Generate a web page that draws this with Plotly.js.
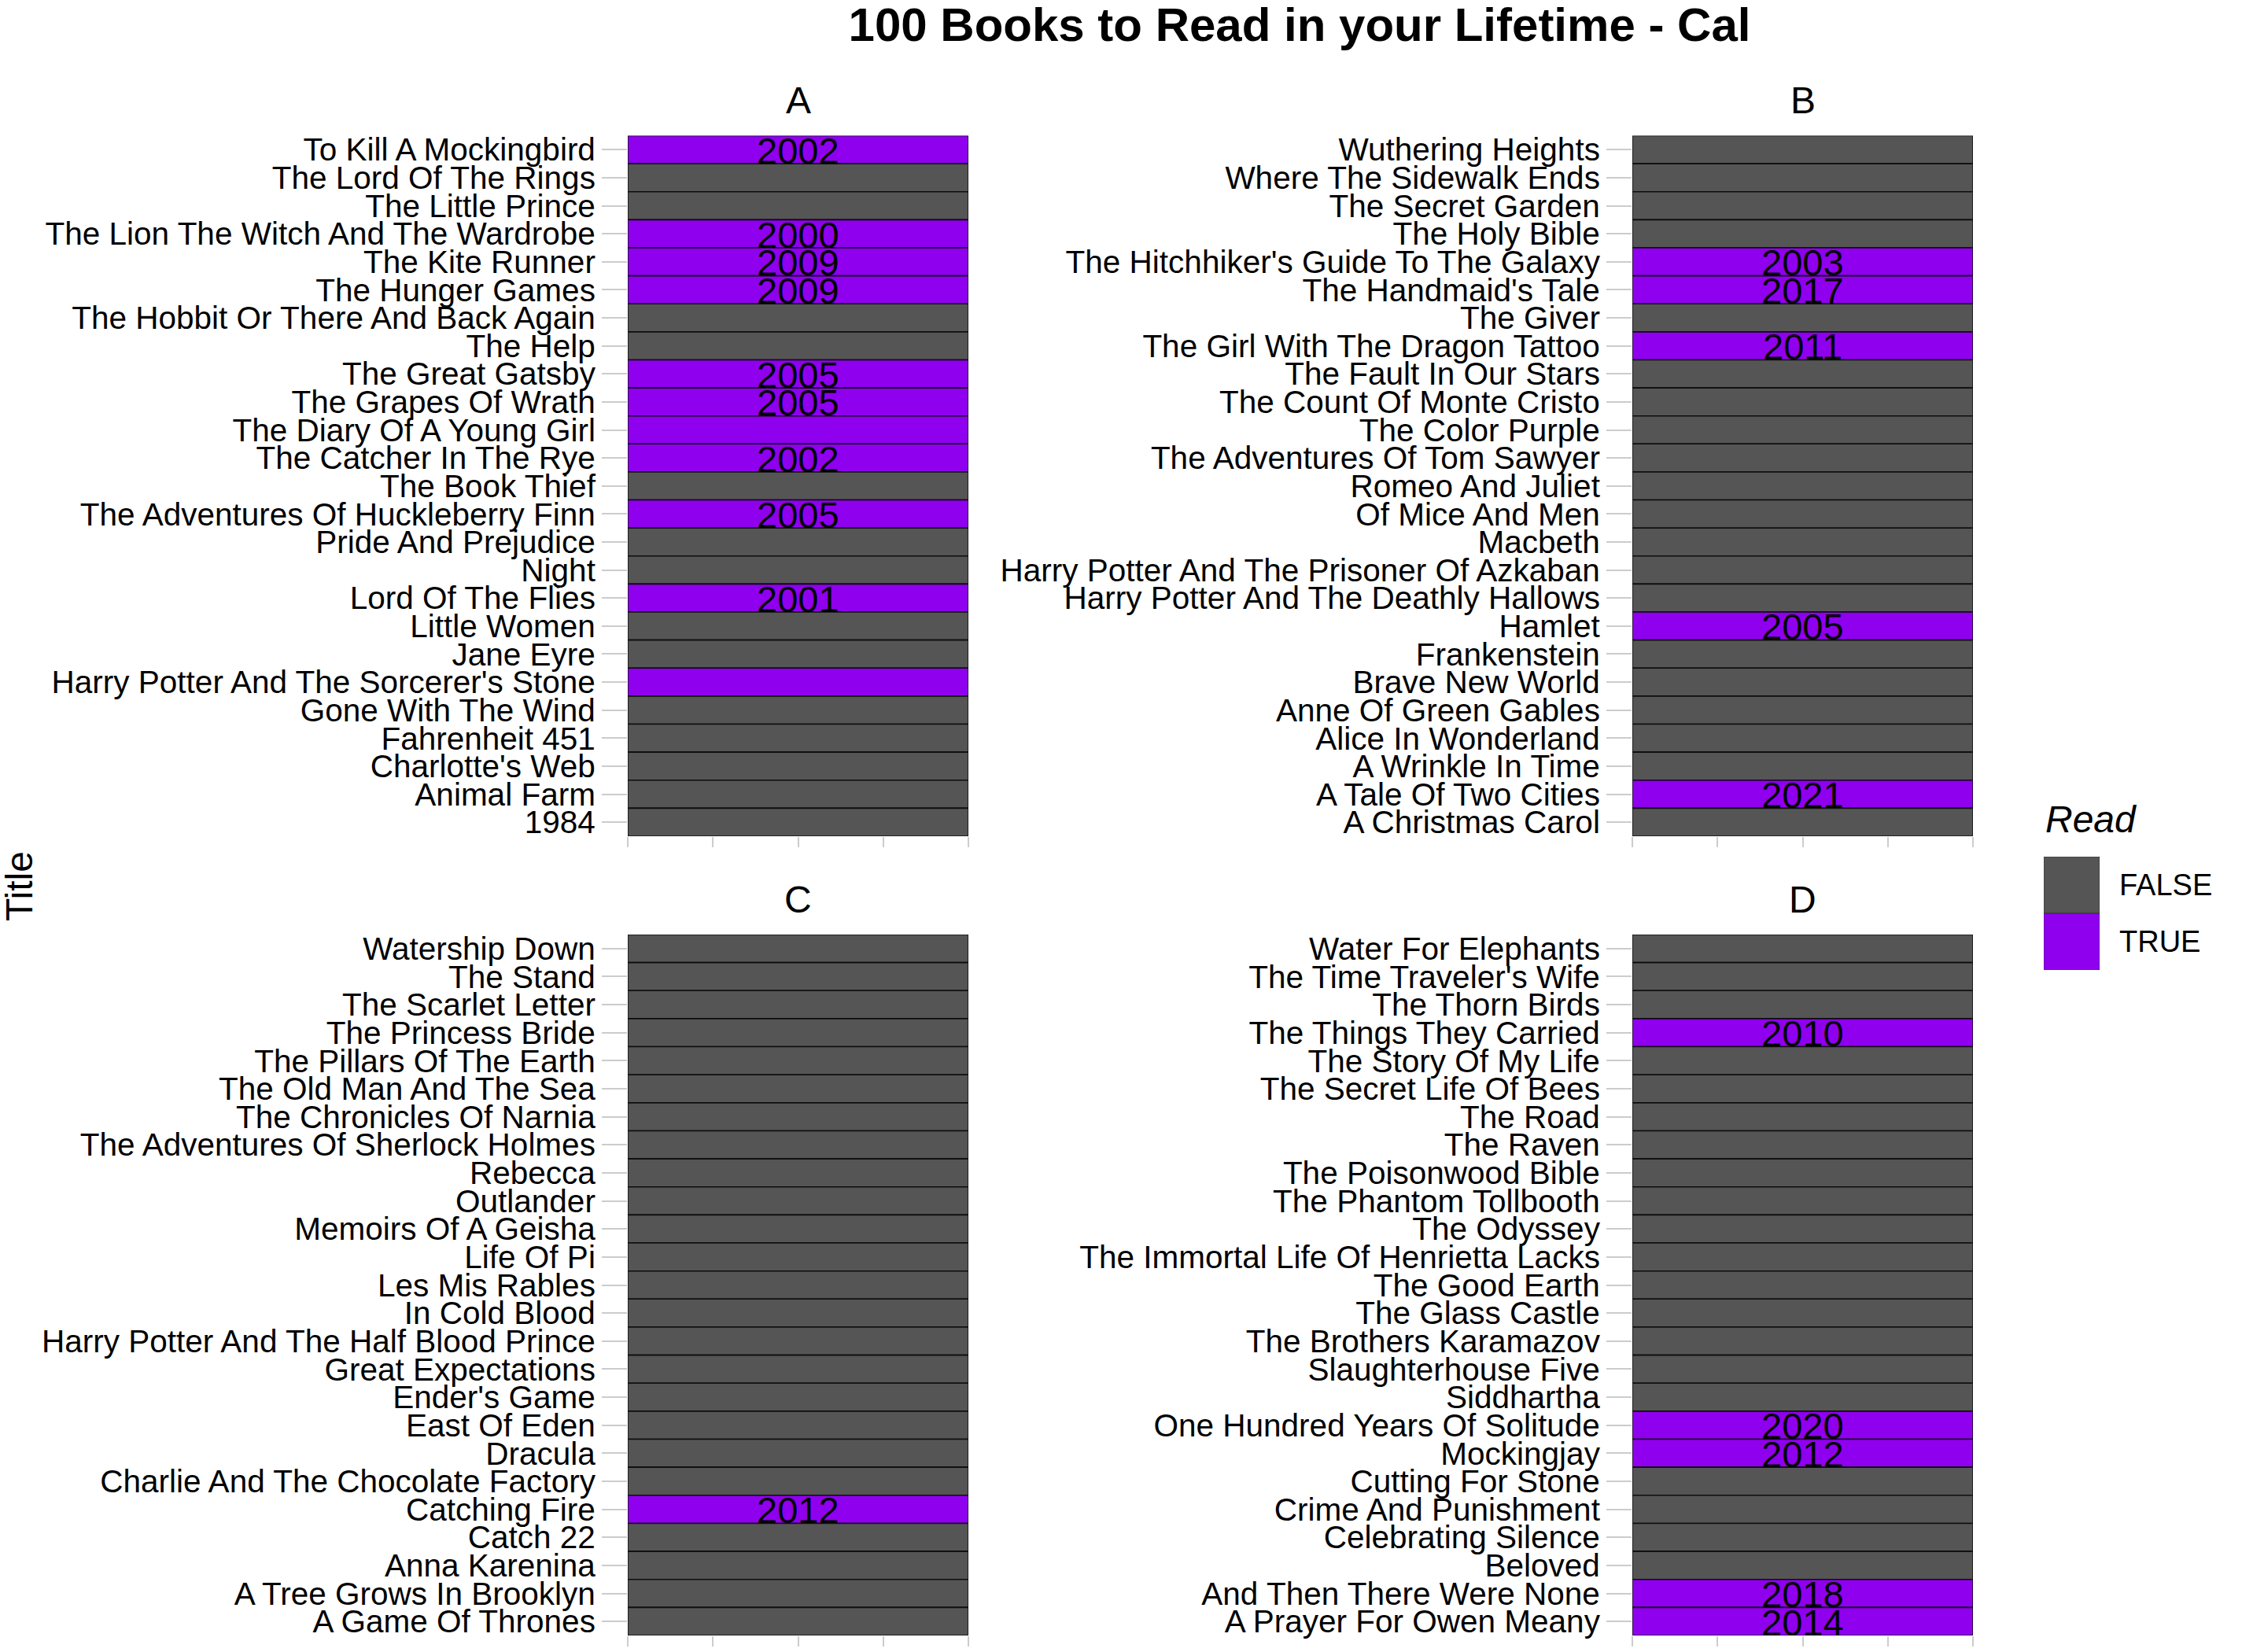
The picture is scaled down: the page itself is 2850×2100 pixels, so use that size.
<!DOCTYPE html>
<html>
<head>
<meta charset="utf-8">
<script src="https://cdn.plot.ly/plotly-3.0.1.min.js"></script>
<style>html,body{margin:0;padding:0;background:#fff;}#chart{width:2850px;height:2100px;}</style>
</head>
<body>
<div id="chart"></div>
<script>
// ---- data (top-to-bottom order as shown in each facet) ----
const panelNames = ["A", "B", "C", "D"];

const titlesA = ["To Kill A Mockingbird","The Lord Of The Rings","The Little Prince","The Lion The Witch And The Wardrobe","The Kite Runner","The Hunger Games","The Hobbit Or There And Back Again","The Help","The Great Gatsby","The Grapes Of Wrath","The Diary Of A Young Girl","The Catcher In The Rye","The Book Thief","The Adventures Of Huckleberry Finn","Pride And Prejudice","Night","Lord Of The Flies","Little Women","Jane Eyre","Harry Potter And The Sorcerer's Stone","Gone With The Wind","Fahrenheit 451","Charlotte's Web","Animal Farm","1984"];
const readA = [true,false,false,true,true,true,false,false,true,true,true,true,false,true,false,false,true,false,false,true,false,false,false,false,false];
const yearA = ["2002","","","2000","2009","2009","","","2005","2005","","2002","","2005","","","2001","","","","","","","",""];

const titlesB = ["Wuthering Heights","Where The Sidewalk Ends","The Secret Garden","The Holy Bible","The Hitchhiker's Guide To The Galaxy","The Handmaid's Tale","The Giver","The Girl With The Dragon Tattoo","The Fault In Our Stars","The Count Of Monte Cristo","The Color Purple","The Adventures Of Tom Sawyer","Romeo And Juliet","Of Mice And Men","Macbeth","Harry Potter And The Prisoner Of Azkaban","Harry Potter And The Deathly Hallows","Hamlet","Frankenstein","Brave New World","Anne Of Green Gables","Alice In Wonderland","A Wrinkle In Time","A Tale Of Two Cities","A Christmas Carol"];
const readB = [false,false,false,false,true,true,false,true,false,false,false,false,false,false,false,false,false,true,false,false,false,false,false,true,false];
const yearB = ["","","","","2003","2017","","2011","","","","","","","","","","2005","","","","","","2021",""];

const titlesC = ["Watership Down","The Stand","The Scarlet Letter","The Princess Bride","The Pillars Of The Earth","The Old Man And The Sea","The Chronicles Of Narnia","The Adventures Of Sherlock Holmes","Rebecca","Outlander","Memoirs Of A Geisha","Life Of Pi","Les Mis Rables","In Cold Blood","Harry Potter And The Half Blood Prince","Great Expectations","Ender's Game","East Of Eden","Dracula","Charlie And The Chocolate Factory","Catching Fire","Catch 22","Anna Karenina","A Tree Grows In Brooklyn","A Game Of Thrones"];
const readC = [false,false,false,false,false,false,false,false,false,false,false,false,false,false,false,false,false,false,false,false,true,false,false,false,false];
const yearC = ["","","","","","","","","","","","","","","","","","","","","2012","","","",""];

const titlesD = ["Water For Elephants","The Time Traveler's Wife","The Thorn Birds","The Things They Carried","The Story Of My Life","The Secret Life Of Bees","The Road","The Raven","The Poisonwood Bible","The Phantom Tollbooth","The Odyssey","The Immortal Life Of Henrietta Lacks","The Good Earth","The Glass Castle","The Brothers Karamazov","Slaughterhouse Five","Siddhartha","One Hundred Years Of Solitude","Mockingjay","Cutting For Stone","Crime And Punishment","Celebrating Silence","Beloved","And Then There Were None","A Prayer For Owen Meany"];
const readD = [false,false,false,true,false,false,false,false,false,false,false,false,false,false,false,false,false,true,true,false,false,false,false,true,true];
const yearD = ["","","","2010","","","","","","","","","","","","","","2020","2012","","","","","2018","2014"];

const legendLevels = ["FALSE", "TRUE"];

// ---- styles ----
const COLORS = {"FALSE": "#555555", "TRUE": "#8f00ee"};
const FONT = "Liberation Sans, Arial, Helvetica, sans-serif";

const panels = [
  {titles: titlesA, read: readA, year: yearA},
  {titles: titlesB, read: readB, year: yearB},
  {titles: titlesC, read: readC, year: yearC},
  {titles: titlesD, read: readD, year: yearD}
];

const W = 2850, H = 2100;
const px = v => v / W;
const py = v => 1 - v / H;
const xDomains = [[px(798), px(1231)], [px(2075), px(2508)], [px(798), px(1231)], [px(2075), px(2508)]];
const yDomains = [[py(1063), py(172.5)], [py(1063), py(172.5)], [py(2079), py(1188)], [py(2079), py(1188)]];
const stripY = [127.5, 127.5, 1143, 1143];

const traces = [];
const layout = {
  width: W, height: H,
  margin: {l: 0, r: 0, t: 0, b: 0},
  paper_bgcolor: "#ffffff", plot_bgcolor: "#ffffff",
  font: {family: FONT, color: "#000"},
  showlegend: false,
  bargap: 0,
  title: {
    text: "<b>100 Books to Read in your Lifetime - Cal</b>",
    font: {family: FONT, size: 60, color: "#000"},
    x: px(1652), xanchor: "center", xref: "paper",
    y: 1 - 31 / H, yanchor: "middle", yref: "container"
  },
  annotations: []
};

panels.forEach((p, i) => {
  const n = i + 1;
  const xa = n === 1 ? "x" : "x" + n;
  const ya = n === 1 ? "y" : "y" + n;
  traces.push({
    type: "bar", orientation: "h",
    x: p.titles.map(() => 1),
    y: p.titles,
    marker: {color: p.read.map(r => COLORS[r ? "TRUE" : "FALSE"]), line: {color: "rgba(10,10,10,0.9)", width: 1.6}},
    xaxis: xa, yaxis: ya, hoverinfo: "skip"
  });
  p.titles.forEach((t, k) => {
    if (p.year[k]) {
      layout.annotations.push({
        text: p.year[k], xref: xa, yref: ya, x: 0.5, y: t,
        xanchor: "center", yanchor: "middle", yshift: -1, showarrow: false,
        font: {family: FONT, size: 47, color: "#000"}
      });
    }
  });
  layout[n === 1 ? "xaxis" : "xaxis" + n] = {
    domain: xDomains[i], anchor: ya, range: [0, 1],
    showgrid: false, zeroline: false, showline: false,
    ticks: "outside", tickvals: [0, 0.25, 0.5, 0.75, 1], ticklen: 13, tickwidth: 2, tickcolor: "#cccccc",
    showticklabels: false, fixedrange: true
  };
  layout[n === 1 ? "yaxis" : "yaxis" + n] = {
    domain: yDomains[i], anchor: xa, type: "category",
    categoryorder: "array", categoryarray: p.titles,
    range: [p.titles.length - 0.5, -0.5],
    tickmode: "array", tickvals: p.titles, ticktext: p.titles,
    showgrid: false, zeroline: false, showline: false,
    ticks: "outside", ticklen: 32, tickwidth: 2, tickcolor: "#cccccc",
    ticklabelstandoff: 0,
    tickfont: {family: FONT, size: 40.5, color: "#000"}, fixedrange: true
  };
  layout.annotations.push({
    text: panelNames[i], xref: xa + " domain", x: 0.5, xanchor: "center",
    yref: "paper", y: py(stripY[i]), yanchor: "middle", showarrow: false,
    font: {family: FONT, size: 48, color: "#000"}
  });
});

// legend drawn as a small key subplot
traces.push({
  type: "bar", orientation: "h",
  x: legendLevels.map(() => 1), y: legendLevels,
  marker: {color: legendLevels.map(l => COLORS[l]), line: {color: "rgba(40,40,40,0.6)", width: 1}},
  xaxis: "x5", yaxis: "y5", hoverinfo: "skip"
});
layout.xaxis5 = {domain: [px(2598), px(2669)], anchor: "y5", range: [0, 1], visible: false, fixedrange: true};
layout.yaxis5 = {
  domain: [py(1233), py(1089)], anchor: "x5", side: "right", type: "category",
  categoryorder: "array", categoryarray: legendLevels, range: [1.5, -0.5],
  showgrid: false, zeroline: false, showline: false, ticks: "",
  ticklabelstandoff: 24,
  tickfont: {family: FONT, size: 38, color: "#000"}, fixedrange: true
};
layout.annotations.push({
  text: "<i>Read</i>", xref: "paper", x: px(2598), xanchor: "left",
  yref: "paper", y: py(1041), yanchor: "middle", showarrow: false,
  font: {family: FONT, size: 48, color: "#000"}
});
layout.annotations.push({
  text: "Title", textangle: -90, xref: "paper", x: px(24), xanchor: "center",
  yref: "paper", y: py(1127), yanchor: "middle", showarrow: false,
  font: {family: FONT, size: 48, color: "#000"}
});

Plotly.newPlot("chart", traces, layout, {staticPlot: true, displayModeBar: false});
</script>
</body>
</html>
